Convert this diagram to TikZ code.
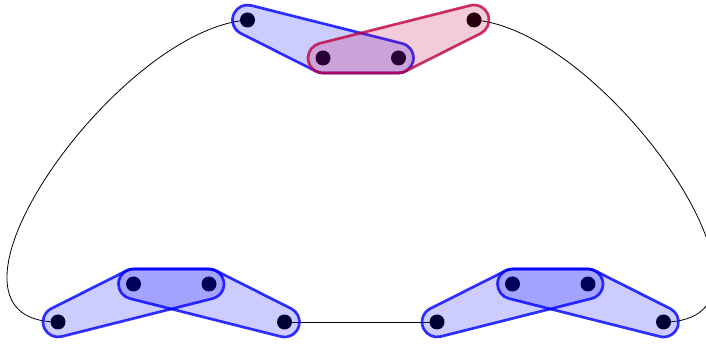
\documentclass[tikz,border=0pt]{standalone}
\usetikzlibrary{calc}

\tikzset{
  blackdot/.style={circle, fill=black, inner sep=0pt, minimum size=15pt},
  link/.style={draw=black, line width=0.8pt},
  hull/.style={draw=#1, fill=#1, fill opacity=0.2, draw opacity=0.8,
               line width=2.7pt, line join=round},
  % four vertices of one gadget: two outer ones on the base line,
  % two inner ones raised by 38
  pics/dotrow/.style={code={
    \node[blackdot] (-a) at (0,0) {};
    \node[blackdot] (-b) at (75.5,38) {};
    \node[blackdot] (-c) at (151,38) {};
    \node[blackdot] (-d) at (226.5,0) {};
  }},
  % rounded convex hulls: left outer vertex with the inner pair,
  % right outer vertex with the inner pair
  pics/hullpair/.style 2 args={code={
    \path[hull=#1] (0,0) ++(116.71:15)
      arc[start angle=116.71, end angle=284.125, radius=15]
      -- ++(151,38)
      arc[start angle=-75.875, end angle=90, radius=15]
      -- ++(-75.5,0)
      arc[start angle=90, end angle=116.71, radius=15]
      -- cycle;
    \path[hull=#2] (75.5,38) ++(90:15)
      arc[start angle=90, end angle=255.875, radius=15]
      -- ++(151,-38)
      arc[start angle=-104.125, end angle=63.29, radius=15]
      -- ++(-75.5,38)
      arc[start angle=63.29, end angle=90, radius=15]
      -- cycle;
  }}
}

\begin{document}
\begin{tikzpicture}[x=1pt, y=1pt]
  \useasboundingbox (0,0) rectangle (706,345);

  % vertices; the top gadget is the same one turned upside down
  \pic (gl) at (58,23) {dotrow};
  \pic (gr) at (437,23) {dotrow};
  \begin{scope}[y=-1pt]
    \pic (gt) at (247.5,-325) {dotrow};
  \end{scope}

  % connectors between the gadgets
  \draw[link] (gt-a.center) .. controls (115,315) and (-89,23) .. (gl-a.center);
  \draw[link] (gt-d.center) .. controls (606.5,315) and (810.5,23) .. (gr-d.center);
  \draw[link] (gl-d.center) -- (gr-a.center);

  % hulls
  \pic at (58,23) {hullpair={blue}{blue}};
  \pic at (437,23) {hullpair={blue}{blue}};
  \begin{scope}[y=-1pt]
    \pic at (247.5,-325) {hullpair={blue}{purple}};
  \end{scope}
\end{tikzpicture}
\end{document}
